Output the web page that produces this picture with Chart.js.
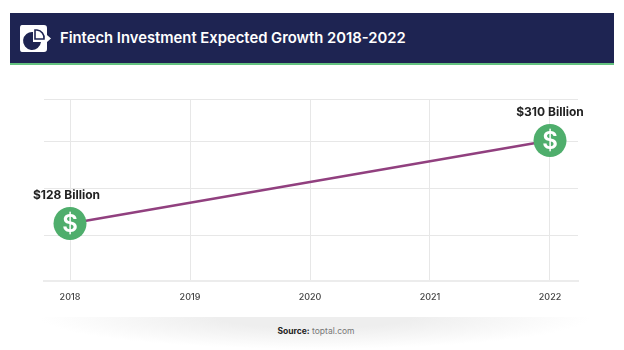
<!DOCTYPE html>
<html>
<head>
<meta charset="utf-8">
<title>Fintech Investment Expected Growth</title>
<script src="https://cdn.jsdelivr.net/npm/chart.js@4/dist/chart.umd.min.js"></script>
<style>
  html, body { margin: 0; padding: 0; background: #fff; }
  body { width: 624px; height: 350px; position: relative; overflow: hidden; font-family: Inter, sans-serif; }
  .banner { position: absolute; left: 10px; top: 13px; width: 604px; height: 50px; background: #1e2452; border-bottom: 2.5px solid #63c27f; }
  .banner svg { position: absolute; left: 10px; top: 12px; }
  .banner h1 { position: absolute; left: 50px; top: 0; margin: 0; line-height: 50px; font-size: 14.8px; font-weight: 600; color: #fff; white-space: nowrap; }
  .shadow { position: absolute; left: 40px; top: 317px; width: 550px; height: 32px; background: radial-gradient(ellipse 50% 100% at 50% 0, #eeeeee 35%, rgba(255,255,255,0) 100%); }
  .source { position: absolute; left: 0; width: 632px; top: 325px; text-align: center; font-size: 8.5px; line-height: 12px; color: #777; }
  .source b { color: #222; }
  canvas { position: absolute; left: 0; top: 0; }
</style>
</head>
<body>
<div class="shadow"></div>
<div class="banner">
  <svg width="32" height="28" viewBox="0 0 32 28">
    <path d="M2 0H24Q27 0 27 3V10L31 13.5L27 17V24Q27 27 24 27H2Q0 27 0 24V3Q0 0 2 0Z" fill="#fff"/>
    <path d="M13 7A9 9 0 1 0 21 17H13Z" fill="#1e2452"/>
    <path d="M15 5H17A8 8 0 0 1 24 14H15Z" fill="none" stroke="#1e2452" stroke-width="1.6"/>
  </svg>
  <h1>Fintech Investment Expected Growth 2018-2022</h1>
</div>
<div class="source"><b>Source:</b> toptal.com</div>
<canvas id="chart" width="624" height="350"></canvas>
<script>
const years = [2018, 2019, 2020, 2021, 2022]
const investment = [128, null, null, null, 310]
const pointLabels = ["$128 Billion", null, null, null, "$310 Billion"]
const yGridValues = [2, 102, 205, 307, 401]

const GRID = "#e7e7e7"

const pointLabelPlugin = {
  id: "pointLabels",
  afterDatasetsDraw(chart) {
    const { ctx } = chart
    const meta = chart.getDatasetMeta(0)
    ctx.save()
    ctx.textAlign = "center"
    ctx.textBaseline = "middle"
    meta.data.forEach((point, i) => {
      if (investment[i] === null) return
      ctx.fillStyle = "#fff"
      ctx.font = "600 24px Inter, sans-serif"
      ctx.fillText("$", point.x, point.y + 1)
      ctx.fillStyle = "#222"
      ctx.font = "700 12px Inter, sans-serif"
      const shift = i === 0 ? -3.5 : 0
      ctx.fillText(pointLabels[i], point.x + shift, point.y - 28)
    })
    ctx.restore()
  },
}

new Chart(document.getElementById("chart"), {
  type: "line",
  data: {
    datasets: [
      {
        data: years.map((year, i) => ({ x: year, y: investment[i] })),
        borderColor: "#91407f",
        borderWidth: 2.5,
        spanGaps: true,
        tension: 0,
        pointRadius: 16.5,
        pointBorderWidth: 0,
        pointBackgroundColor: "#4fae6c",
      },
    ],
  },
  options: {
    responsive: false,
    animation: false,
    layout: { padding: { left: 44, right: 46, top: 99, bottom: 0 } },
    plugins: { legend: { display: false }, tooltip: { enabled: false } },
    scales: {
      x: {
        type: "linear",
        min: 2018 - 26 / 120,
        max: 2022 + 28 / 120,
        afterBuildTicks: (scale) => {
          scale.ticks = years.map((value) => ({ value }))
        },
        afterFit: (scale) => {
          scale.height = 69
        },
        grid: { color: GRID, drawTicks: false },
        border: { color: "#ececec", width: 2 },
        ticks: {
          padding: 11,
          autoSkip: false,
          maxRotation: 0,
          color: "#444",
          font: { family: "Inter, sans-serif", size: 9, weight: "500" },
          callback: (value) => String(value),
        },
      },
      y: {
        min: 2,
        max: 401,
        afterBuildTicks: (scale) => {
          scale.ticks = yGridValues.map((value) => ({ value }))
        },
        afterFit: (scale) => {
          scale.width = 0
        },
        grid: { color: GRID, drawTicks: false },
        border: { display: false },
        ticks: { display: false },
      },
    },
  },
  plugins: [pointLabelPlugin],
})
</script>
</body>
</html>
